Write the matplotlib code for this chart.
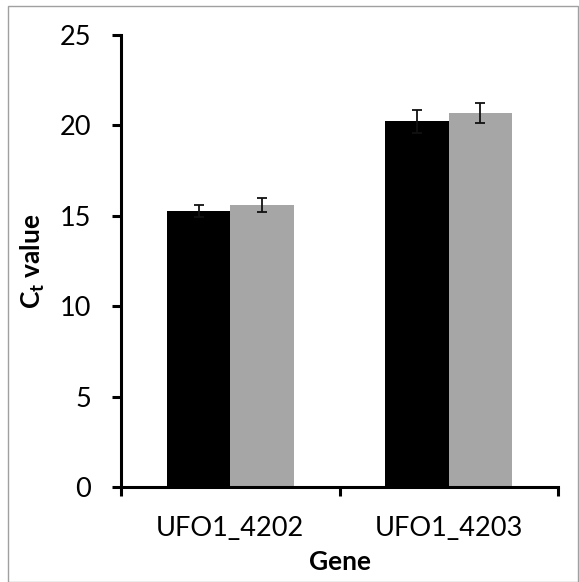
import matplotlib
matplotlib.use("Agg")
import matplotlib.pyplot as plt
from matplotlib.patches import Rectangle
import numpy as np

genes = ["UFO1_4202", "UFO1_4203"]
series1 = [15.25, 20.22]
series1_err = [0.33, 0.65]
series2 = [15.6, 20.7]
series2_err = [0.4, 0.55]

plt.rcParams['font.family'] = ['Lato', 'DejaVu Sans']
plt.rcParams['mathtext.fontset'] = 'custom'
plt.rcParams['mathtext.rm'] = 'Lato'
plt.rcParams['mathtext.bf'] = 'Lato:bold'

fig = plt.figure(figsize=(5.79, 5.82), dpi=100)
fig.patches.append(Rectangle((8/579, 0), 1 - 8/579 - 1/579, 1 - 6/582, transform=fig.transFigure,
                             fill=False, edgecolor='#a0a0a0', linewidth=1.0))
ax = fig.add_axes([121/579, (582-487)/582, (558-121)/579, (487-35)/582])

x = np.arange(len(genes))
w = 0.29
ekw = dict(ecolor='#111111', elinewidth=1.3, capsize=3.5, capthick=1.3)
ax.bar(x - w/2, series1, w, color='#000000', yerr=series1_err, error_kw=ekw, zorder=2)
ax.bar(x + w/2, series2, w, color='#a6a6a6', yerr=series2_err, error_kw=ekw, zorder=2)

ax.set_xlim(-0.5, 1.5)
ax.set_ylim(0, 25)
ax.set_yticks([0, 5, 10, 15, 20, 25])
ax.tick_params(axis='y', direction='out', length=6.5, width=2.2, labelsize=19.5, pad=15, colors='black')
ax.set_xticks([-0.5, 0.5, 1.5])
ax.set_xticklabels([])
ax.tick_params(axis='x', which='major', direction='out', length=6.5, width=2.2)
ax.set_xticks(x, minor=True)
ax.set_xticklabels(genes, minor=True)
ax.tick_params(axis='x', which='minor', length=0, labelsize=19.5, pad=21)

for s in ['top', 'right']:
    ax.spines[s].set_visible(False)
for s in ['left', 'bottom']:
    ax.spines[s].set_linewidth(2.2)

ax.set_ylabel(r'$\mathbf{C_t}$ value', fontsize=19, fontweight='bold', labelpad=9)
ax.set_xlabel('Gene', fontsize=19, fontweight='bold', labelpad=6)

fig.savefig('out.png', dpi=100)
